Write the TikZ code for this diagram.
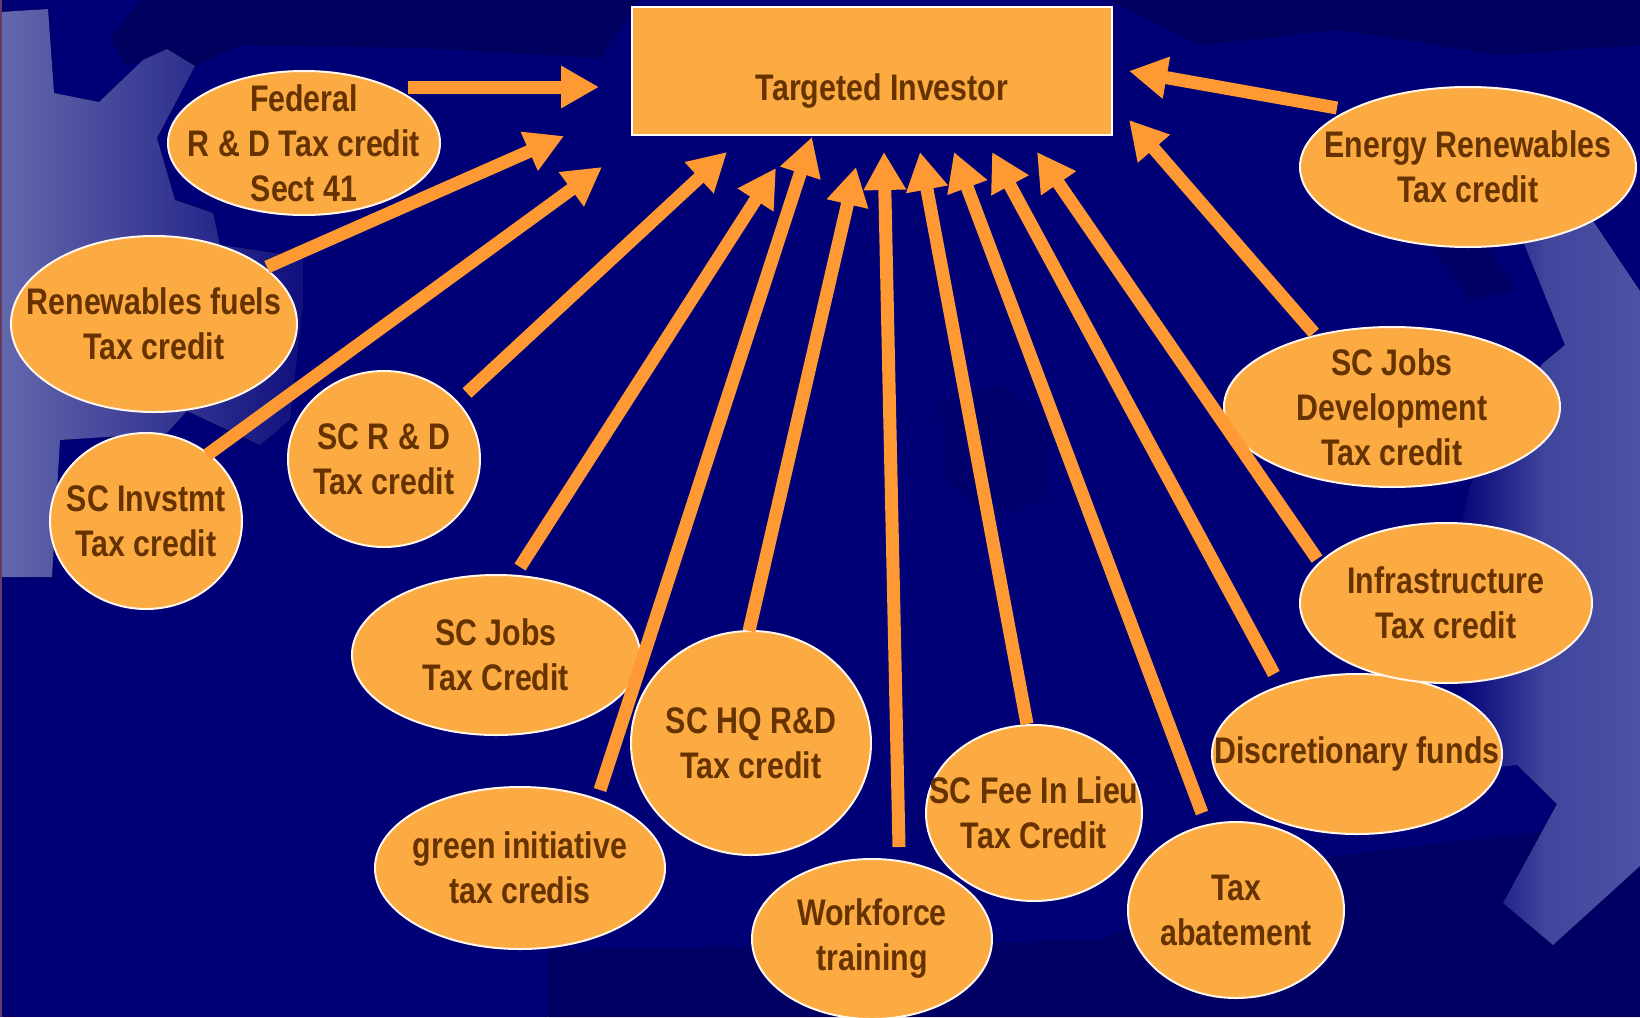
\documentclass[tikz,border=0pt]{standalone}
\usepackage{fontspec}
\setmainfont{Liberation Sans}[FakeStretch=0.82]
\usetikzlibrary{arrows.meta,shapes.geometric,calc}
\definecolor{navy}{RGB}{0,0,118}
\definecolor{navydk}{RGB}{0,0,88}
\definecolor{lav}{RGB}{100,104,172}
\definecolor{lavR}{RGB}{76,82,164}
\definecolor{ofill}{RGB}{252,170,66}
\definecolor{oarrow}{RGB}{255,153,51}
\definecolor{otext}{RGB}{102,51,0}
\definecolor{edgestrip}{RGB}{100,60,100}
\begin{document}
\begin{tikzpicture}[x=1pt,y=-1pt,
  oval/.style={ellipse, draw=white!90!ofill, line width=2pt, fill=ofill, inner sep=0pt},
  lbl/.style={text=otext, font=\bfseries\fontsize{37}{45}\selectfont, align=center, inner sep=0pt},
  arr/.style={draw=oarrow, line width=13pt, -{Triangle[width=40pt,length=38pt]}},
  patch/.style={fill=navydk, opacity=0.8}]
\useasboundingbox (0,0) rectangle (1640,1017);
% background
\fill[navy] (0,0) rectangle (1640,1017);
\fill[patch] (141,0) -- (110,37) -- (126,67) -- (167,50) -- (195,66) -- (240,45) -- (420,48) -- (600,58) -- (640,0) -- cycle;
\fill[patch] (1110,0) -- (1640,0) -- (1640,45) -- (1500,55) -- (1340,30) -- (1200,45) -- cycle;
\fill[patch, opacity=0.3] (940,400) -- (1000,385) -- (1050,420) -- (1045,500) -- (990,520) -- (945,480) -- cycle;
\fill[patch, opacity=0.6] (1427,240) -- (1490,250) -- (1516,290) -- (1470,300) -- cycle;
\fill[patch, opacity=0.6] (549,950) -- (1100,940) -- (1300,860) -- (1640,820) -- (1640,1017) -- (549,1017) -- cycle;
% left lavender gear
\fill[left color=lav, right color=navy!85!lav]
  (0,12) -- (48,9) -- (54,93) -- (99,102) -- (143,60) -- (167,49) -- (195,66) -- (157,138)
  -- (175,200) -- (213,213) -- (220,245) -- (303,257) -- (303,306) -- (290,420) -- (260,445)
  -- (187,411) -- (167,433) -- (60,440) -- (52,577) -- (0,577) -- cycle;
% right lavender gear
\fill[left color=navy, right color=lavR, middle color=lavR!85!navy]
  (1520,234) -- (1587,212) -- (1640,291) -- (1640,866) -- (1553,945) -- (1503,903)
  -- (1557,804) -- (1517,765) -- (1500,767) -- (1453,686) -- (1460,527) -- (1470,485)
  -- (1542,364) -- (1565,345) -- cycle;
\fill[edgestrip] (0,0) rectangle (2,1017);
% target box
\node[draw=white, line width=2pt, fill=ofill, minimum width=480pt, minimum height=128pt, inner sep=0pt] (tgt) at (872,71) {};
\node[lbl, anchor=base] (tgttxt) at (882,100) {Targeted Investor};
% ellipses
\node[oval, minimum width=272pt, minimum height=144pt, label={[lbl]center:{Federal\\R \& D Tax credit\\Sect 41}}] (fed) at (304,143) {};
\node[oval, minimum width=286pt, minimum height=176pt, label={[lbl]center:{Renewables fuels\\Tax credit}}] (ren) at (154,324) {};
\node[oval, minimum width=192pt, minimum height=176pt, label={[lbl]center:{SC Invstmt\\Tax credit}}] (scinv) at (146,521) {};
\node[oval, minimum width=192pt, minimum height=176pt, label={[lbl]center:{SC R \& D\\Tax credit}}] (scrd) at (384,459) {};
\node[oval, minimum width=288pt, minimum height=160pt, label={[lbl]center:{SC Jobs\\Tax Credit}}] (jobs) at (496,655) {};
\node[oval, minimum width=290pt, minimum height=162pt, label={[lbl]center:{green initiative\\tax credis}}] (green) at (520,868) {};
\node[oval, minimum width=240pt, minimum height=224pt, label={[lbl]center:{SC HQ R\&D\\Tax credit}}] (hq) at (751,743) {};
\node[oval, minimum width=240pt, minimum height=160pt, label={[lbl]center:{Workforce\\training}}] (work) at (872,939) {};
\node[oval, minimum width=216pt, minimum height=176pt, label={[lbl]center:{SC Fee In Lieu\\Tax Credit}}] (fee) at (1034,813) {};
\node[oval, minimum width=216pt, minimum height=176pt, label={[lbl]center:{Tax\\abatement}}] (abate) at (1236,910) {};
\node[oval, minimum width=290pt, minimum height=160pt, label={[lbl]center:{Discretionary funds}}] (disc) at (1357,754) {};
\node[oval, minimum width=292pt, minimum height=160pt, label={[lbl]center:{Infrastructure\\Tax credit}}] (infra) at (1446,603) {};
\node[oval, minimum width=336pt, minimum height=160pt, label={[lbl]center:{SC Jobs\\Development\\Tax credit}}] (jdev) at (1392,407) {};
\node[oval, minimum width=336pt, minimum height=160pt, label={[lbl]center:{Energy Renewables\\Tax credit}}] (energy) at (1468,167) {};
% arrow tips near the target box
\coordinate (h1) at (599,87);
\coordinate (h2) at (564,136);
\coordinate (h3) at (602,167);
\coordinate (h4) at (727,152);
\coordinate (h5) at (776,168);
\coordinate (h6) at (812,137);
\coordinate (h7) at (856,167);
\coordinate (h8) at (884,152);
\coordinate (h9) at (920,152);
\coordinate (h10) at (954,152);
\coordinate (h11) at (992,152);
\coordinate (h12) at (1037,152);
\coordinate (h13) at (1129,120);
\coordinate (h14) at (1129,71);
% arrows
\draw[arr] ($(fed)+(104,-56)$) -- (h1);
\draw[arr] ($(ren)+(113,-57)$) -- (h2);
\draw[arr] ($(scinv)+(61,-66)$) -- (h3);
\draw[arr] ($(scrd)+(83,-66)$) -- (h4);
\draw[arr] ($(jobs)+(24,-88)$) -- (h5);
\draw[arr] ($(green)+(80,-78)$) -- (h6);
\draw[arr] ($(hq)+(-2,-112)$) -- (h7);
\draw[arr] ($(work)+(27,-92)$) -- (h8);
\draw[arr] ($(fee)+(-7,-89)$) -- (h9);
\draw[arr] ($(abate)+(-34,-97)$) -- (h10);
\draw[arr] ($(disc)+(-83,-80)$) -- (h11);
\draw[arr] ($(infra)+(-129,-44)$) -- (h12);
\draw[arr] ($(jdev)+(-78,-74)$) -- (h13);
\draw[arr] ($(energy)+(-131,-59)$) -- (h14);
\end{tikzpicture}
\end{document}
